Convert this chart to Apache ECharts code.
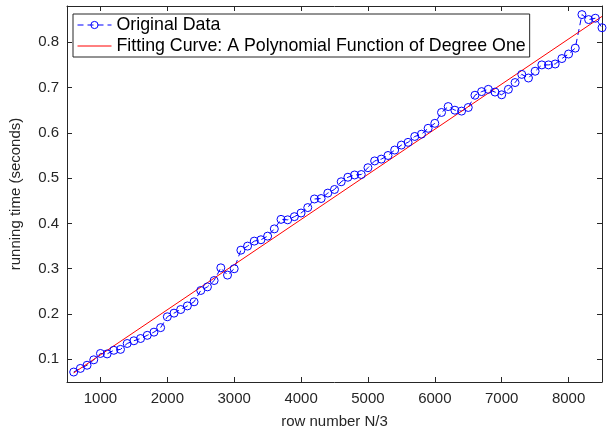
<!DOCTYPE html>
<html>
<head>
<meta charset="utf-8">
<script src="https://cdn.jsdelivr.net/npm/echarts@6/dist/echarts.min.js"></script>
<style>html,body{margin:0;padding:0;background:#fff}#c{width:608px;height:434px}</style>
</head>
<body>
<div id="c"></div>
<script>
var rowNumbers = [600,700,800,900,1000,1100,1200,1300,1400,1500,1600,1700,1800,1900,2000,2100,2200,2300,2400,2500,
  2600,2700,2800,2900,3000,3100,3200,3300,3400,3500,3600,3700,3800,3900,4000,4100,4200,4300,4400,4500,
  4600,4700,4800,4900,5000,5100,5200,5300,5400,5500,5600,5700,5800,5900,6000,6100,6200,6300,6400,6500,
  6600,6700,6800,6900,7000,7100,7200,7300,7400,7500,7600,7700,7800,7900,8000,8100,8200,8300,8400,8500];
var runningTimes = [0.072,0.080,0.087,0.099,0.113,0.112,0.120,0.122,0.135,0.141,0.146,0.153,0.160,0.170,0.194,0.202,0.210,0.218,0.227,0.252,
  0.260,0.274,0.302,0.286,0.300,0.341,0.350,0.361,0.364,0.372,0.388,0.409,0.408,0.415,0.423,0.435,0.454,0.455,0.467,0.475,
  0.492,0.502,0.507,0.508,0.523,0.538,0.542,0.550,0.562,0.573,0.579,0.592,0.597,0.610,0.621,0.645,0.658,0.650,0.648,0.656,
  0.683,0.691,0.696,0.690,0.684,0.696,0.711,0.729,0.721,0.736,0.750,0.750,0.752,0.764,0.774,0.787,0.861,0.850,0.853,0.832];
var fitX = [600, 8500];
var fitY = [0.070, 0.857];
var xTicks = [1000,2000,3000,4000,5000,6000,7000,8000];
var yTicks = [0.1,0.2,0.3,0.4,0.5,0.6,0.7,0.8];

var dataPairs = rowNumbers.map(function(x,i){return [x, runningTimes[i]];});
var fitPairs = fitX.map(function(x,i){return [x, fitY[i]];});

var FONT = 'Liberation Sans, Arial, Helvetica, sans-serif';
var AX = '#262626';
function xAx(pos, show){
  return {type:'value', position:pos, min:500, max:8500,
    axisLine:{show:true, onZero:false, lineStyle:{color:AX, width:1}},
    axisTick:{show:true, inside:true, length:5, customValues:xTicks, lineStyle:{color:AX}},
    axisLabel:{show:show, customValues:xTicks, color:AX, fontSize:15, fontFamily:FONT, margin:9,
      formatter:function(v){return String(v);}},
    splitLine:{show:false},
    name: show ? 'row number N/3' : '', nameLocation:'middle', nameGap:32,
    nameTextStyle:{color:AX, fontSize:15, fontFamily:FONT}};
}
function yAx(pos, show){
  return {type:'value', position:pos, min:0.05, max:0.88,
    axisLine:{show:true, onZero:false, lineStyle:{color:AX, width:1}},
    axisTick:{show:true, inside:true, length:5, customValues:yTicks, lineStyle:{color:AX}},
    axisLabel:{show:show, customValues:yTicks, color:AX, fontSize:15, fontFamily:FONT, margin:8,
      formatter:function(v){return v.toFixed(1);}},
    splitLine:{show:false},
    name: show ? 'running time (seconds)' : '', nameLocation:'middle', nameGap:44,
    nameTextStyle:{color:AX, fontSize:15, fontFamily:FONT}};
}

var chart = echarts.init(document.getElementById('c'), null, {renderer:'canvas'});
chart.setOption({
  animation:false,
  backgroundColor:'#fff',
  grid:{left:63, right:6, top:6, bottom:49, containLabel:false},
  xAxis:[xAx('bottom', true), xAx('top', false)],
  yAxis:[yAx('left', true), yAx('right', false)],
  legend:{
    show:true, orient:'vertical', left:73, top:14,
    padding:[2,4,2,4], itemGap:3, itemWidth:34, itemHeight:9,
    backgroundColor:'#fff', borderColor:'#262626', borderWidth:1,
    textStyle:{color:'#000', fontSize:17.8, fontFamily:FONT},
    lineStyle:{width:1},
    data:[
      {name:'Original Data', itemStyle:{color:'rgba(0,0,0,0)', borderColor:'#0000ff', borderWidth:1}},
      {name:'Fitting Curve: A Polynomial Function of Degree One', itemStyle:{opacity:0}}
    ]
  },
  series:[
    {name:'Original Data', type:'line', data:dataPairs, xAxisIndex:0, yAxisIndex:0,
      symbol:'circle', symbolSize:8, showSymbol:true,
      lineStyle:{color:'#0000ff', width:1, type:[6,4]},
      itemStyle:{color:'rgba(0,0,0,0)', borderColor:'#0000ff', borderWidth:1},
      emphasis:{disabled:true}},
    {name:'Fitting Curve: A Polynomial Function of Degree One', type:'line', data:fitPairs,
      xAxisIndex:0, yAxisIndex:0, symbol:'none', showSymbol:false,
      lineStyle:{color:'#ff0000', width:1}, itemStyle:{color:'#ff0000'},
      emphasis:{disabled:true}}
  ]
});
</script>
</body>
</html>
